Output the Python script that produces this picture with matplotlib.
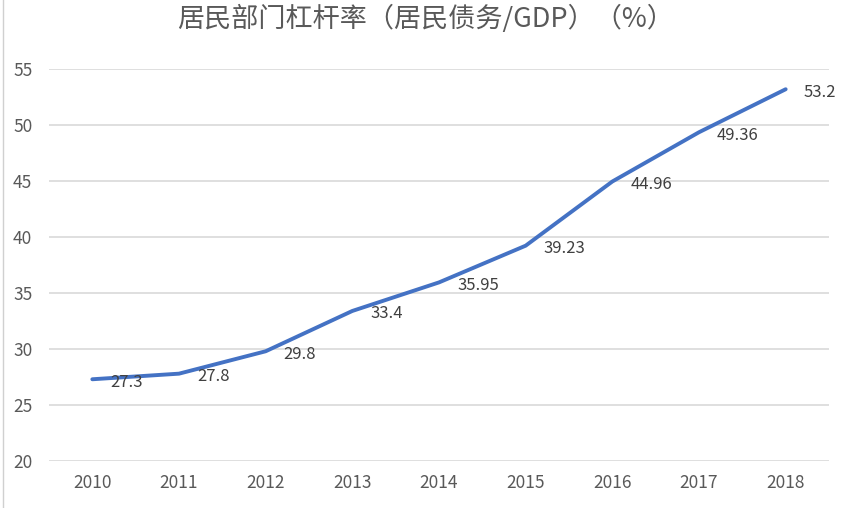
import matplotlib
matplotlib.use('Agg')
from matplotlib import pyplot as plt
from matplotlib.lines import Line2D

plt.rcParams['font.family'] = ['Noto Sans CJK SC', 'DejaVu Sans']

years = ['2010', '2011', '2012', '2013', '2014', '2015', '2016', '2017', '2018']
ratio = [27.3, 27.8, 29.8, 33.4, 35.95, 39.23, 44.96, 49.36, 53.2]
ratio_labels = ['27.3', '27.8', '29.8', '33.4', '35.95', '39.23', '44.96', '49.36', '53.2']
yticks = [20, 25, 30, 35, 40, 45, 50, 55]

textcol = '#595959'
gridcol = '#d9d9d9'

fig = plt.figure(figsize=(8.52, 5.08), dpi=100)
ax = fig.add_axes([0.0575, 0.0925, 0.9155, 0.7715])

x = list(range(len(years)))
ax.plot(x, ratio, color='#4472C4', linewidth=2.8, solid_capstyle='round', zorder=3)

for xi, v, lab in zip(x, ratio, ratio_labels):
    ax.annotate(lab, (xi, v), xytext=(13, -2), textcoords='offset points',
                ha='left', va='center', fontsize=12, color='#404040')

ax.set_xlim(-0.5, len(years) - 0.5)
ax.set_ylim(20, 55)
ax.set_yticks(yticks)
ax.set_xticks(x)
ax.set_xticklabels(years)
ax.tick_params(axis='both', length=0, labelsize=12.5, labelcolor=textcol)
ax.tick_params(axis='x', pad=9)
ax.tick_params(axis='y', pad=12)
ax.grid(axis='y', color=gridcol, linewidth=1.2)
ax.set_axisbelow(True)
for s in ax.spines.values():
    s.set_visible(False)

fig.suptitle('居民部门杠杆率（居民债务/GDP）（%）', fontsize=19.5, color=textcol, y=0.99)

# thin border line at the left edge
fig.add_artist(Line2D([0.004, 0.004], [0, 1], transform=fig.transFigure,
                      color='#d0d0d0', linewidth=1))

fig.savefig('out.png', dpi=100)
